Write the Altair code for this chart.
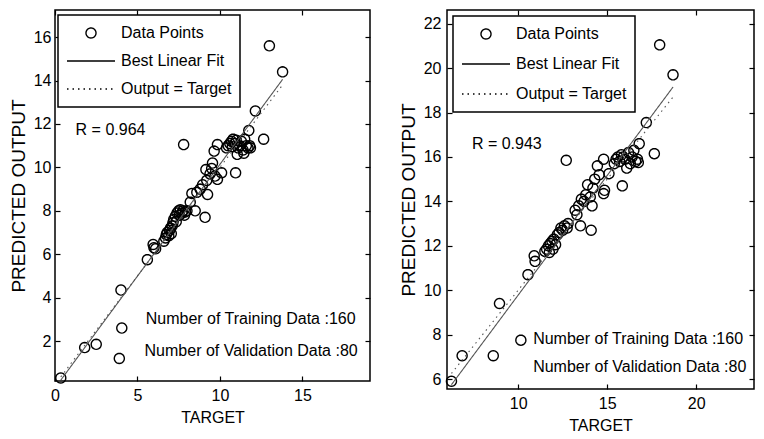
import math
import altair as alt
import pandas as pd

FONT = "Liberation Sans"

# ---------------- data ----------------
series_names = ["Data Points", "Best Linear Fit", "Output = Target"]

# Left panel
target_l = [0.35, 1.8, 2.5, 3.9, 4.05, 4.0, 5.6, 5.95, 6.0, 6.1,
            6.6, 6.7, 6.75, 6.8, 6.9, 6.95, 7.0, 7.05, 7.1, 7.15, 7.2, 7.3, 7.35, 7.4,
            7.5, 7.55, 7.6, 7.7, 7.75, 7.85, 7.9, 8.0, 7.8,
            8.2, 8.3, 8.6, 8.8, 8.5, 9.1, 8.95, 9.2, 9.25, 9.15, 9.4, 9.5, 9.55, 9.65,
            9.85, 9.85, 10.1, 9.7,
            10.4, 10.5, 10.6, 10.7, 10.75, 10.8, 10.9, 11.0, 11.05, 11.1, 11.2, 11.3,
            11.4, 11.45, 11.5, 11.6, 11.7, 11.8, 11.85, 10.95,
            11.75, 12.15, 12.65, 13.0, 13.8]
output_l = [0.3, 1.7, 1.85, 1.2, 2.6, 4.35, 5.75, 6.45, 6.3, 6.25,
            6.6, 6.75, 6.9, 7.0, 6.85, 7.1, 7.2, 6.95, 7.3, 7.45, 7.6, 7.75, 7.5, 7.9,
            8.0, 7.8, 8.05, 7.9, 8.0, 7.8, 7.95, 8.0, 11.05,
            8.4, 8.8, 8.85, 9.0, 8.0, 7.7, 9.2, 9.4, 8.75, 9.9, 9.7, 9.95, 10.2, 10.75,
            11.05, 9.45, 9.75, 9.6,
            10.9, 11.0, 11.1, 11.2, 10.95, 11.3, 11.1, 11.25, 10.6, 10.9, 11.0, 11.2,
            10.8, 10.65, 11.3, 11.0, 10.9, 11.0, 10.9, 9.75,
            11.7, 12.6, 11.3, 15.6, 14.4]
fit_l = [1.03, -0.16]          # slope, intercept of best linear fit
r_label_l = ["R = 0.964"]
r_pos_l = [1.25, 11.7]
counts_labels = ["Number of Training Data :160", "Number of Validation Data :80"]
counts_x_l = [5.5, 5.43]
counts_y_l = [3.0, 1.55]

# Right panel
target_r = [6.25, 6.85, 8.6, 8.95, 10.15, 10.55, 10.9, 10.95,
            11.5, 11.6, 11.7, 11.75, 11.8, 11.9, 11.95, 12.0, 12.1, 12.2, 12.3, 12.4,
            12.5, 12.6, 12.75, 12.8, 12.7,
            13.2, 13.3, 13.4, 13.5, 13.55, 13.7, 13.8, 13.9, 14.05, 14.1, 14.15, 14.2,
            14.3, 14.45, 14.55, 14.8, 14.85, 14.8, 15.1,
            15.4, 15.5, 15.6, 15.7, 15.8, 15.9, 16.0, 16.1, 16.2, 16.3, 16.4, 16.5,
            16.6, 16.7, 16.75, 16.8, 15.85,
            17.65, 17.2, 17.95, 18.7]
output_r = [5.9, 7.05, 7.05, 9.4, 7.75, 10.7, 11.55, 11.3,
            11.75, 11.85, 12.0, 11.7, 12.1, 12.2, 11.85, 12.3, 12.05, 12.5, 12.6, 12.8,
            12.7, 12.9, 12.8, 13.0, 15.85,
            13.6, 13.4, 13.8, 12.9, 14.1, 14.0, 14.3, 14.75, 14.2, 12.7, 13.8, 14.6,
            15.0, 15.6, 15.2, 14.35, 14.5, 15.9, 15.25,
            15.7, 15.9, 16.0, 15.8, 16.1, 16.0, 15.9, 15.5, 16.2, 15.7, 16.0, 16.3,
            15.8, 15.9, 15.75, 16.6, 14.7,
            16.15, 17.55, 21.05, 19.7]
fit_r = [1.077, -0.99]
r_label_r = ["R = 0.943"]
r_pos_r = [7.4, 16.6]
counts_x_r = [10.84, 10.84]
counts_y_r = [7.82, 6.54]

# ---------------- symbols (style) ----------------
SYM = 48  # symbol box size in px (sqrt of symbol size)
circ_r = 0.21
circle_path = "M" + " L".join(
    f"{circ_r*math.cos(2*math.pi*k/24):.4f},{circ_r*math.sin(2*math.pi*k/24):.4f}" for k in range(24)
) + " Z"
line_path = "M-1,0 L1,0"


def panel(targets, outputs, fit, r_label, r_pos, cx, cy, x_dom, y_dom, x_ticks, y_ticks,
          w, h, leg_xy, row_pad, lab_pad_y):
    pts = pd.DataFrame({"target": targets, "output": outputs,
                        "series": [series_names[0]] * len(targets)})
    lo, hi = min(targets), max(targets)
    lines = pd.DataFrame({
        "target": [lo, hi, lo, hi],
        "output": [fit[0] * lo + fit[1], fit[0] * hi + fit[1], lo, hi],
        "series": [series_names[1]] * 2 + [series_names[2]] * 2,
    })
    texts = pd.DataFrame({"target": [r_pos[0]] + cx, "output": [r_pos[1]] + cy,
                          "label": r_label + counts_labels})

    xs = alt.Scale(domain=x_dom, nice=False, zero=False)
    ys = alt.Scale(domain=y_dom, nice=False, zero=False)

    legend = alt.Legend(title=None, orient="none", legendX=leg_xy[0], legendY=leg_xy[1],
                        strokeColor="black", fillColor="white", padding=8,
                        labelFontSize=16, labelFont=FONT, labelColor="black",
                        symbolSize=SYM * SYM, symbolStrokeWidth=1.4,
                        symbolStrokeColor="black", clipHeight=20, rowPadding=row_pad,
                        labelOffset=5)

    ax_common = dict(tickSize=5, offset=-5, domain=False, grid=False, tickColor="black",
                     tickWidth=1.2)
    x_bottom = alt.Axis(orient="bottom", values=x_ticks, labelFontSize=16, labelFont=FONT,
                        labelColor="black", labelPadding=6, labelFlush=False, title="TARGET",
                        titleFont=FONT, titleFontSize=16, titleFontWeight="normal",
                        titleColor="black", titlePadding=6, **ax_common)
    y_left = alt.Axis(orient="left", values=y_ticks, labelFontSize=16, labelFont=FONT,
                      labelColor="black", labelPadding=lab_pad_y, labelFlush=False,
                      title="PREDICTED OUTPUT", titleFont=FONT, titleFontSize=19,
                      titleFontWeight="normal", titleColor="black", titlePadding=5,
                      **ax_common)
    x_top = alt.Axis(orient="top", values=x_ticks, labels=False, title=None, **ax_common)
    y_right = alt.Axis(orient="right", values=y_ticks, labels=False, title=None, **ax_common)

    points = alt.Chart(pts).mark_point(filled=False, color="black", size=SYM * SYM,
                                       strokeWidth=1.4, opacity=1).encode(
        x=alt.X("target:Q", scale=xs, axis=x_bottom),
        y=alt.Y("output:Q", scale=ys, axis=y_left),
        shape=alt.Shape("series:N", scale=alt.Scale(domain=series_names,
                        range=[circle_path, line_path, line_path]), legend=legend),
    )
    fits = alt.Chart(lines).mark_line(color="#555555", strokeWidth=1.1).encode(
        x=alt.X("target:Q", scale=xs, axis=x_top),
        y=alt.Y("output:Q", scale=ys, axis=y_right),
        strokeDash=alt.StrokeDash("series:N", scale=alt.Scale(domain=series_names,
                                  range=[[1, 0], [1, 0], [1.5, 4]]), legend=legend),
    )
    labels = alt.Chart(texts).mark_text(align="left", baseline="middle", fontSize=16,
                                        font=FONT, color="black").encode(
        x=alt.X("target:Q", scale=xs, axis=None),
        y=alt.Y("output:Q", scale=ys, axis=None),
        text="label:N",
    )
    return alt.layer(points, fits, labels).properties(width=w, height=h)


left = panel(target_l, output_l, fit_l, r_label_l, r_pos_l, counts_x_l, counts_y_l,
             [0, 19.1], [0.16, 17.25], [0, 5, 10, 15], [2, 4, 6, 8, 10, 12, 14, 16],
             315, 371, [3, 5], 8, 4)
right = panel(target_r, output_r, fit_r, r_label_r, r_pos_r, counts_x_r, counts_y_r,
              [6, 23.25], [5.55, 22.62], [10, 15, 20], [6, 8, 10, 12, 14, 16, 18, 20, 22],
              307, 379, [6, 6], 10, 6)

chart = alt.hconcat(left, right, spacing=26).resolve_scale(
    x="independent", y="independent", shape="independent", strokeDash="independent"
).properties(
    padding={"left": 0, "top": 0, "right": 0, "bottom": 0}
).configure_view(stroke="black", strokeWidth=1.5).configure_legend(strokeWidth=1.5)

chart.save("out.html", embed_options={"renderer": "svg", "actions": False})
